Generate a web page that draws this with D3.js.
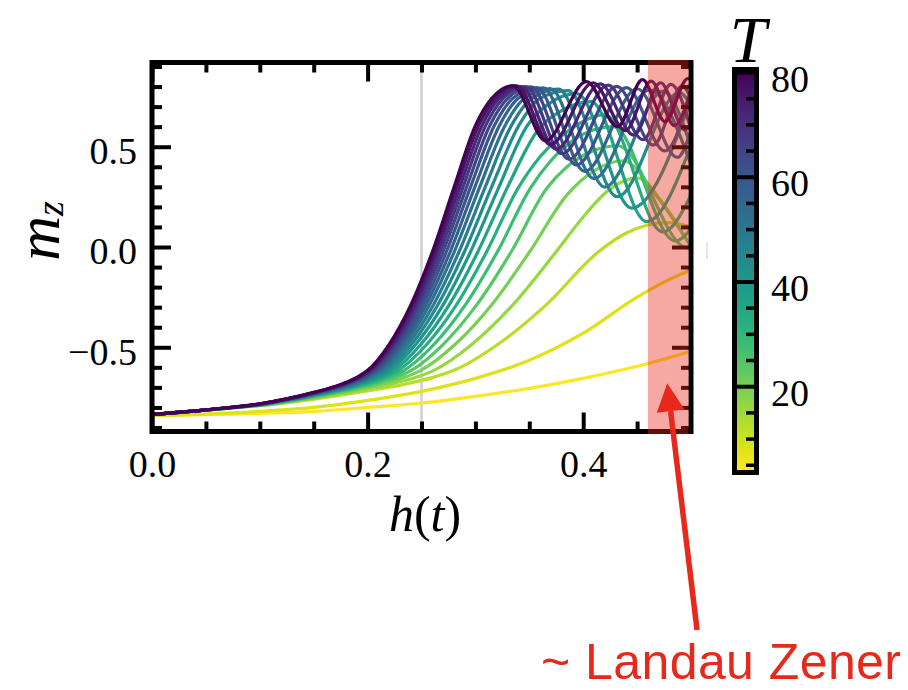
<!DOCTYPE html>
<html>
<head>
<meta charset="utf-8">
<script src="https://cdn.jsdelivr.net/npm/d3@7"></script>
<style>
  html, body { margin: 0; padding: 0; background: #fff; }
  svg { display: block; }
</style>
</head>
<body>
<svg id="chart" width="908" height="690"></svg>
<script>
// Sweep durations T, one magnetisation curve per value
const sweepTimes = [4, 8, 12, 16, 20, 24, 28, 32, 36, 40, 44, 48, 52, 56, 60, 64, 68, 72, 76, 80];

// m_z along the field ramp h(t), as [h, m_z] pairs, one array per T
const mzT04 = [[0,-0.84],[0.05,-0.836],[0.1,-0.83],[0.15,-0.82],[0.2,-0.80],[0.25,-0.778],[0.3,-0.745],[0.35,-0.705],[0.4,-0.655],[0.45,-0.595],[0.5,-0.52]];
const mzT08 = [[0,-0.84],[0.05,-0.833],[0.1,-0.82],[0.15,-0.80],[0.2,-0.765],[0.25,-0.72],[0.3,-0.655],[0.35,-0.565],[0.4,-0.43],[0.45,-0.25],[0.475,-0.175],[0.5,-0.115]];
const mzT12 = [[0,-0.835],[0.0539,-0.812],[0.1167,-0.782],[0.191,-0.725],[0.2334,-0.685],[0.2609,-0.65],[0.2801,-0.615],[0.321,-0.485],[0.3654,-0.29],[0.4139,-0.025],[0.44,0.07],[0.46,0.11],[0.478,0.122],[0.5,0.10]];
const mzT16 = [[0,-0.835],[0.0531,-0.812],[0.1133,-0.782],[0.1822,-0.725],[0.2204,-0.685],[0.2447,-0.65],[0.2616,-0.615],[0.2969,-0.485],[0.3345,-0.29],[0.3747,-0.025],[0.40,0.15],[0.425,0.29],[0.45,0.345],[0.475,0.21],[0.5,0.0]];
const mzT20 = [[0,-0.835],[0.0526,-0.812],[0.111,-0.782],[0.1762,-0.725],[0.2117,-0.685],[0.234,-0.65],[0.2494,-0.615],[0.2813,-0.485],[0.3148,-0.29],[0.3502,-0.025],[0.385,0.26],[0.41,0.38],[0.437,0.43],[0.47,0.24],[0.5,0.0]];
const mzT24 = [[0,-0.835],[0.0522,-0.812],[0.1092,-0.782],[0.1717,-0.725],[0.2053,-0.685],[0.2263,-0.65],[0.2406,-0.615],[0.2702,-0.485],[0.301,-0.29],[0.3331,-0.025],[0.3666,0.295],[0.385,0.40],[0.405,0.47],[0.432,0.505],[0.497,-0.005],[0.5,-0.003]];
const mzT28 = [[0,-0.835],[0.0519,-0.812],[0.1078,-0.782],[0.1683,-0.725],[0.2004,-0.685],[0.2203,-0.65],[0.2339,-0.615],[0.2617,-0.485],[0.2905,-0.29],[0.3203,-0.025],[0.3512,0.295],[0.37,0.43],[0.39,0.53],[0.41,0.585],[0.428,0.60],[0.4855,0.03],[0.5,0.09]];
const mzT32 = [[0,-0.835],[0.0516,-0.812],[0.1066,-0.782],[0.1655,-0.725],[0.1964,-0.685],[0.2155,-0.65],[0.2285,-0.615],[0.255,-0.485],[0.2822,-0.29],[0.3103,-0.025],[0.3392,0.29],[0.36,0.45],[0.385,0.575],[0.405,0.64],[0.42,0.66],[0.474,0.075],[0.5,0.26]];
const mzT36 = [[0,-0.835],[0.0514,-0.812],[0.1057,-0.782],[0.1631,-0.725],[0.1931,-0.685],[0.2116,-0.65],[0.2241,-0.615],[0.2495,-0.485],[0.2755,-0.29],[0.3022,-0.025],[0.3295,0.295],[0.3576,0.58],[0.38,0.68],[0.407,0.725],[0.459,0.127],[0.5,0.505]];
const mzT40 = [[0,-0.835],[0.0512,-0.812],[0.1048,-0.782],[0.1611,-0.725],[0.1904,-0.685],[0.2082,-0.65],[0.2203,-0.615],[0.2448,-0.485],[0.2699,-0.29],[0.2954,-0.025],[0.3215,0.295],[0.3481,0.605],[0.367,0.71],[0.394,0.765],[0.4449,0.194],[0.5,0.734]];
const mzT44 = [[0,-0.835],[0.051,-0.812],[0.1041,-0.782],[0.1594,-0.725],[0.188,-0.685],[0.2054,-0.65],[0.2171,-0.615],[0.2409,-0.485],[0.265,-0.29],[0.2897,-0.025],[0.3147,0.295],[0.3402,0.605],[0.3596,0.74],[0.3859,0.78],[0.4315,0.251],[0.4892,0.77],[0.5,0.707]];
const mzT48 = [[0,-0.835],[0.0508,-0.812],[0.1034,-0.782],[0.1579,-0.725],[0.1858,-0.685],[0.2029,-0.65],[0.2143,-0.615],[0.2374,-0.485],[0.2609,-0.29],[0.2847,-0.025],[0.3088,0.295],[0.3333,0.605],[0.352,0.74],[0.3771,0.787],[0.42,0.299],[0.4743,0.777],[0.5,0.499]];
const mzT52 = [[0,-0.835],[0.0507,-0.812],[0.1029,-0.782],[0.1565,-0.725],[0.184,-0.685],[0.2006,-0.65],[0.2118,-0.615],[0.2344,-0.485],[0.2572,-0.29],[0.2803,-0.025],[0.3037,0.295],[0.3274,0.605],[0.3453,0.74],[0.3695,0.79],[0.4101,0.341],[0.4614,0.783],[0.5,0.412]];
const mzT56 = [[0,-0.835],[0.0506,-0.812],[0.1023,-0.782],[0.1553,-0.725],[0.1823,-0.685],[0.1987,-0.65],[0.2096,-0.615],[0.2317,-0.485],[0.254,-0.29],[0.2765,-0.025],[0.2992,0.295],[0.3222,0.605],[0.3395,0.74],[0.3629,0.793],[0.4014,0.377],[0.4502,0.789],[0.4874,0.447],[0.5,0.58]];
const mzT60 = [[0,-0.835],[0.0505,-0.812],[0.1019,-0.782],[0.1542,-0.725],[0.1808,-0.685],[0.1969,-0.65],[0.2076,-0.615],[0.2293,-0.485],[0.2511,-0.29],[0.273,-0.025],[0.2952,0.295],[0.3175,0.605],[0.3343,0.74],[0.357,0.795],[0.3937,0.409],[0.4402,0.795],[0.4756,0.479],[0.5,0.781]];
const mzT64 = [[0,-0.835],[0.0504,-0.812],[0.1014,-0.782],[0.1533,-0.725],[0.1794,-0.685],[0.1952,-0.65],[0.2058,-0.615],[0.2271,-0.485],[0.2484,-0.29],[0.2699,-0.025],[0.2916,0.295],[0.3133,0.605],[0.3297,0.74],[0.3517,0.798],[0.3868,0.438],[0.4312,0.801],[0.4651,0.508],[0.492,0.803],[0.5,0.738]];
const mzT68 = [[0,-0.835],[0.0503,-0.812],[0.101,-0.782],[0.1523,-0.725],[0.1782,-0.685],[0.1938,-0.65],[0.2042,-0.615],[0.2251,-0.485],[0.246,-0.29],[0.2671,-0.025],[0.2883,0.295],[0.3095,0.605],[0.3255,0.74],[0.3469,0.80],[0.3805,0.465],[0.4231,0.807],[0.4556,0.535],[0.4814,0.811],[0.5,0.586]];
const mzT72 = [[0,-0.835],[0.0502,-0.812],[0.1007,-0.782],[0.1515,-0.725],[0.177,-0.685],[0.1924,-0.65],[0.2027,-0.615],[0.2232,-0.485],[0.2439,-0.29],[0.2645,-0.025],[0.2853,0.295],[0.3061,0.605],[0.3217,0.74],[0.3426,0.80],[0.3749,0.488],[0.4158,0.813],[0.447,0.558],[0.4718,0.819],[0.4944,0.583],[0.5,0.617]];
const mzT76 = [[0,-0.835],[0.0501,-0.812],[0.1003,-0.782],[0.1507,-0.725],[0.176,-0.685],[0.1912,-0.65],[0.2013,-0.615],[0.2216,-0.485],[0.2419,-0.29],[0.2622,-0.025],[0.2825,0.295],[0.3029,0.605],[0.3182,0.74],[0.3386,0.803],[0.3697,0.51],[0.4091,0.819],[0.4392,0.58],[0.463,0.827],[0.4848,0.605],[0.5,0.784]];
const mzT80 = [[0,-0.835],[0.05,-0.812],[0.1,-0.782],[0.15,-0.725],[0.175,-0.685],[0.19,-0.65],[0.2,-0.615],[0.22,-0.485],[0.24,-0.29],[0.26,-0.025],[0.28,0.295],[0.3,0.605],[0.315,0.74],[0.335,0.805],[0.365,0.53],[0.403,0.825],[0.432,0.60],[0.455,0.835],[0.476,0.625],[0.497,0.84],[0.5,0.838]];

const mzSeries = [mzT04, mzT08, mzT12, mzT16, mzT20, mzT24, mzT28, mzT32, mzT36, mzT40,
                  mzT44, mzT48, mzT52, mzT56, mzT60, mzT64, mzT68, mzT72, mzT76, mzT80];

// Axes: ticks and their labels
const xTicksMajor = [0, 0.2, 0.4];
const xTickLabels = ["0.0", "0.2", "0.4"];
const xTicksMinor = [0.05, 0.1, 0.15, 0.25, 0.3, 0.35, 0.45];
const yTicksMajor = [-0.5, 0, 0.5];
const yTickLabels = ["\u22120.5", "0.0", "0.5"];
const yTicksMinor = [-0.9, -0.8, -0.7, -0.6, -0.4, -0.3, -0.2, -0.1, 0.1, 0.2, 0.3, 0.4, 0.6, 0.7, 0.8, 0.9];
const cbTicksMajor = [20, 40, 60, 80];
const cbTicksMinor = [5, 10, 15, 25, 30, 35, 45, 50, 55, 65, 70, 75];

// Annotations
const markerH = 0.25;                 // vertical guide
const lzRange = [0.46, 0.5];          // shaded Landau-Zener window
const arrowTip = [0.478, -0.68];
const arrowTail = [0.5056, -1.91];

const serif = "'Liberation Serif', 'Times New Roman', serif";
const svg = d3.select("#chart");
const defs = svg.append("defs");

const x = d3.scaleLinear().domain([0, 0.5]).range([152, 691]);
const y = d3.scaleLinear().domain([-0.92, 0.92]).range([431.5, 62.5]);
const color = d3.scaleSequential(d3.interpolateViridis).domain([80, 4]);

const [x0, x1] = x.range();
const [yb, yt] = y.range();

defs.append("clipPath").attr("id", "plotClip")
  .append("rect").attr("x", x0).attr("y", yt).attr("width", x1 - x0).attr("height", yb - yt);

// vertical guide at h = 0.25
svg.append("line")
  .attr("x1", x(markerH)).attr("x2", x(markerH))
  .attr("y1", yt).attr("y2", yb)
  .attr("stroke", "#d0d0d0").attr("stroke-width", 2.5);

// curves, shortest sweep first so the slowest sweeps sit on top
const line = d3.line().x(d => x(d[0])).y(d => y(d[1])).curve(d3.curveMonotoneX);
const curves = svg.append("g").attr("clip-path", "url(#plotClip)");
sweepTimes.forEach((T, i) => {
  curves.append("path")
    .attr("d", line(mzSeries[i]))
    .attr("fill", "none")
    .attr("stroke", color(T))
    .attr("stroke-width", 3.2)
    .attr("stroke-linejoin", "round");
});

// axes with inward ticks on all four sides
function styleAxis(g) {
  g.select(".domain").remove();
  g.attr("font-family", serif).attr("font-size", 38);
  g.selectAll(".tick line").attr("stroke", "#000").attr("stroke-width", 4);
  g.selectAll(".tick text").attr("fill", "#000");
}
const majorLen = 19, minorLen = 10;

svg.append("g").attr("transform", `translate(0,${yb})`)
  .call(d3.axisBottom(x).tickValues(xTicksMajor).tickSize(-majorLen).tickPadding(19)
        .tickFormat((d, i) => xTickLabels[i]))
  .call(styleAxis);
svg.append("g").attr("transform", `translate(0,${yb})`)
  .call(d3.axisBottom(x).tickValues(xTicksMinor).tickSize(-minorLen).tickFormat(""))
  .call(styleAxis);
svg.append("g").attr("transform", `translate(0,${yt})`)
  .call(d3.axisTop(x).tickValues(xTicksMajor).tickSize(-majorLen).tickFormat(""))
  .call(styleAxis);
svg.append("g").attr("transform", `translate(0,${yt})`)
  .call(d3.axisTop(x).tickValues(xTicksMinor).tickSize(-minorLen).tickFormat(""))
  .call(styleAxis);

const yLeft = svg.append("g").attr("transform", `translate(${x0},0)`)
  .call(d3.axisLeft(y).tickValues(yTicksMajor).tickSize(-majorLen).tickPadding(15)
        .tickFormat((d, i) => yTickLabels[i]))
  .call(styleAxis);
yLeft.selectAll(".tick text").attr("dy", "0.44em");
svg.append("g").attr("transform", `translate(${x0},0)`)
  .call(d3.axisLeft(y).tickValues(yTicksMinor).tickSize(-minorLen).tickFormat(""))
  .call(styleAxis);
svg.append("g").attr("transform", `translate(${x1},0)`)
  .call(d3.axisRight(y).tickValues(yTicksMajor).tickSize(-majorLen).tickFormat(""))
  .call(styleAxis);
svg.append("g").attr("transform", `translate(${x1},0)`)
  .call(d3.axisRight(y).tickValues(yTicksMinor).tickSize(-minorLen).tickFormat(""))
  .call(styleAxis);

// frame
svg.append("rect")
  .attr("x", x0).attr("y", yt).attr("width", x1 - x0).attr("height", yb - yt)
  .attr("fill", "none").attr("stroke", "#000").attr("stroke-width", 5);

// axis titles
svg.append("text")
  .attr("x", 425).attr("y", 531)
  .attr("text-anchor", "middle")
  .attr("font-family", serif).attr("font-size", 50)
  .html('<tspan font-style="italic">h</tspan>(<tspan font-style="italic">t</tspan>)');

svg.append("text")
  .attr("transform", "translate(59,231) rotate(-90)")
  .attr("text-anchor", "middle")
  .attr("font-family", serif).attr("font-size", 62)
  .html('<tspan font-style="italic">m</tspan><tspan font-style="italic" font-size="38" dy="4">z</tspan>');

// shaded window, laid over the curves and ticks
const red = "#e8281a";
svg.append("rect")
  .attr("x", x(lzRange[0])).attr("y", yt - 2.5)
  .attr("width", x(lzRange[1]) - x(lzRange[0]) - 2.5)
  .attr("height", yb - yt + 5)
  .attr("fill", red).attr("fill-opacity", 0.4);

// colour bar
const cb = d3.scaleLinear().domain([4, 80]).range([470, 72]);
const cbX0 = 737, cbX1 = 754;
const grad = defs.append("linearGradient").attr("id", "cbGrad")
  .attr("x1", 0).attr("y1", 1).attr("x2", 0).attr("y2", 0);
d3.range(0, 1.0001, 0.05).forEach(t => {
  grad.append("stop").attr("offset", t).attr("stop-color", color(4 + t * 76));
});
svg.append("rect")
  .attr("x", cbX0).attr("y", cb(80)).attr("width", cbX1 - cbX0).attr("height", cb(4) - cb(80))
  .attr("fill", "url(#cbGrad)");
svg.append("g").attr("transform", `translate(${cbX1},0)`)
  .call(d3.axisRight(cb).tickValues(cbTicksMajor).tickSize(-(cbX1 - cbX0)).tickPadding(17)
        .tickFormat(d3.format("d")))
  .call(styleAxis)
  .call(g => g.selectAll(".tick text").attr("dy", "0.5em"));
svg.append("g").attr("transform", `translate(${cbX1},0)`)
  .call(d3.axisRight(cb).tickValues(cbTicksMinor).tickSize(-8).tickFormat(""))
  .call(styleAxis)
  .call(g => g.selectAll(".tick line").attr("stroke-width", 3.5));
svg.append("rect")
  .attr("x", cbX0 - 2.5).attr("y", cb(80) - 2.5)
  .attr("width", cbX1 - cbX0 + 5).attr("height", cb(4) - cb(80) + 5)
  .attr("fill", "none").attr("stroke", "#000").attr("stroke-width", 5);
svg.append("text")
  .attr("x", 748).attr("y", 62)
  .attr("text-anchor", "middle")
  .attr("font-family", serif).attr("font-size", 66).attr("font-style", "italic")
  .text("T");

// faint mark right of the axes
svg.append("line")
  .attr("x1", 707).attr("x2", 707).attr("y1", 242).attr("y2", 259)
  .attr("stroke", "#dcdcdc").attr("stroke-width", 1.5);

// arrow and caption
const tip = [x(arrowTip[0]), y(arrowTip[1])];
const tail = [x(arrowTail[0]), y(arrowTail[1])];
const ang = Math.atan2(tip[1] - tail[1], tip[0] - tail[0]);
const headLen = 28, headHalf = 14;
const base = [tip[0] - headLen * Math.cos(ang), tip[1] - headLen * Math.sin(ang)];
svg.append("line")
  .attr("x1", tail[0]).attr("y1", tail[1]).attr("x2", base[0]).attr("y2", base[1])
  .attr("stroke", red).attr("stroke-width", 5.5);
svg.append("path")
  .attr("d", d3.line()([
    tip,
    [base[0] + headHalf * Math.sin(ang), base[1] - headHalf * Math.cos(ang)],
    [base[0] - headHalf * Math.sin(ang), base[1] + headHalf * Math.cos(ang)]
  ]) + "Z")
  .attr("fill", red);

svg.append("text")
  .attr("x", 541).attr("y", 679)
  .attr("font-family", "'Liberation Sans', Arial, Helvetica, sans-serif")
  .attr("font-size", 50)
  .attr("textLength", 360).attr("lengthAdjust", "spacing")
  .attr("fill", red)
  .text("~ Landau Zener");
</script>
</body>
</html>
